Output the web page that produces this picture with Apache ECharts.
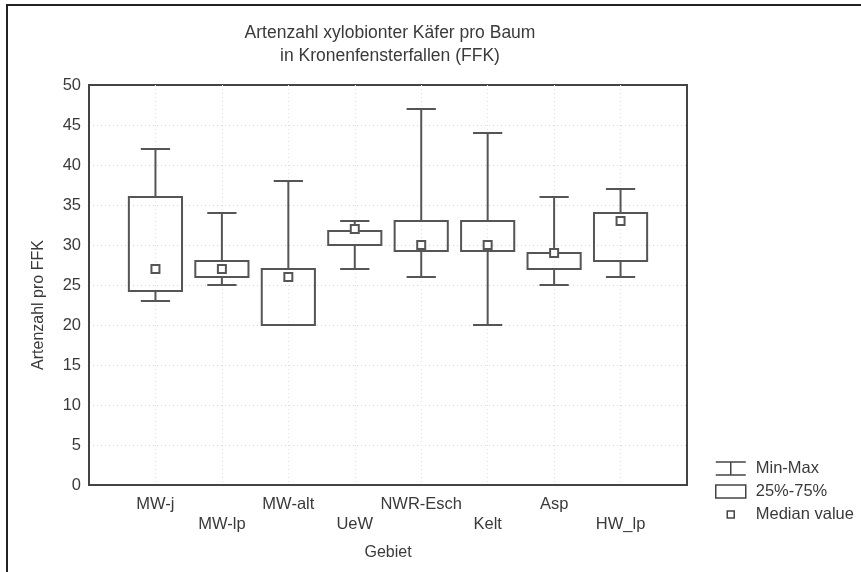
<!DOCTYPE html>
<html>
<head>
<meta charset="utf-8">
<title>Artenzahl xylobionter Käfer pro Baum</title>
<script src="https://cdn.jsdelivr.net/npm/echarts@6/dist/echarts.min.js"></script>
<style>
  html, body { margin: 0; padding: 0; background: #fff; }
  #chart { width: 861px; height: 572px; }
</style>
</head>
<body>
<div id="chart"></div>
<script>
// Sampling areas (Gebiet)
const gebiete = ['MW-j', 'MW-lp', 'MW-alt', 'UeW', 'NWR-Esch', 'Kelt', 'Asp', 'HW_lp'];
// Species count per tree in canopy window traps: five-number summaries
const minWerte    = [23, 25, 20, 27, 26, 20, 25, 26];
const q25Werte    = [24.25, 26, 20, 30, 29.25, 29.25, 27, 28];
const medianWerte = [27, 27, 26, 32, 30, 30, 29, 33];
const q75Werte    = [36, 28, 27, 31.75, 33, 33, 29, 34];
const maxWerte    = [42, 34, 38, 33, 47, 44, 36, 37];
// Value axis ticks
const yTicks = { min: 0, max: 50, step: 5 };

// Padded category list so that the groups sit between empty edge slots
const kategorien = [''].concat(gebiete, ['']);
const rows = gebiete.map((g, i) => [i + 1, minWerte[i], q25Werte[i], medianWerte[i], q75Werte[i], maxWerte[i]]);

const LINE = '#555555';
const TEXT = '#3a3a3a';
const FONT = 'Liberation Sans, Arial, sans-serif';

function whiskerItem(params, api) {
  const x = api.value(0);
  const band = api.size([1, 0])[0];
  const cap = band * 0.22;
  const pMin = api.coord([x, api.value(1)]);
  const pMax = api.coord([x, api.value(5)]);
  const pQ1 = api.coord([x, api.value(2)]);
  const pQ3 = api.coord([x, api.value(4)]);
  const st = { stroke: LINE, lineWidth: 2, fill: null };
  return {
    type: 'group',
    children: [
      { type: 'line', shape: { x1: pMax[0], y1: pMax[1], x2: pQ3[0], y2: pQ3[1] }, style: st },
      { type: 'line', shape: { x1: pQ1[0], y1: pQ1[1], x2: pMin[0], y2: pMin[1] }, style: st },
      { type: 'line', shape: { x1: pMax[0] - cap, y1: pMax[1], x2: pMax[0] + cap, y2: pMax[1] }, style: st },
      { type: 'line', shape: { x1: pMin[0] - cap, y1: pMin[1], x2: pMin[0] + cap, y2: pMin[1] }, style: st }
    ]
  };
}

function boxItem(params, api) {
  const x = api.value(0);
  const band = api.size([1, 0])[0];
  const half = band * 0.4;
  const pQ1 = api.coord([x, api.value(2)]);
  const pQ3 = api.coord([x, api.value(4)]);
  return {
    type: 'rect',
    shape: { x: pQ1[0] - half, y: pQ3[1], width: half * 2, height: pQ1[1] - pQ3[1] },
    style: { stroke: LINE, lineWidth: 2, fill: 'rgba(255,255,255,0)' }
  };
}

function medianItem(params, api) {
  const x = api.value(0);
  const p = api.coord([x, api.value(3)]);
  const s = 8;
  return {
    type: 'rect',
    shape: { x: p[0] - s / 2, y: p[1] - s / 2, width: s, height: s },
    style: { stroke: LINE, lineWidth: 2, fill: '#fff' }
  };
}

const chart = echarts.init(document.getElementById('chart'), null, { renderer: 'canvas' });

chart.setOption({
  backgroundColor: '#fff',
  animation: false,
  textStyle: { fontFamily: FONT, color: TEXT },
  title: {
    text: 'Artenzahl xylobionter Käfer pro Baum\nin Kronenfensterfallen (FFK)',
    left: 385,
    top: 17,
    textAlign: 'center',
    textStyle: { fontFamily: FONT, fontSize: 17.5, fontWeight: 'normal', color: TEXT, lineHeight: 23 }
  },
  legend: {
    orient: 'vertical',
    left: 710,
    top: 455,
    itemWidth: 30,
    itemHeight: 13,
    itemGap: 6,
    textStyle: { fontFamily: FONT, fontSize: 16.5, color: TEXT, padding: [0, 0, 0, 5] },
    data: [
      {
        name: 'Min-Max',
        icon: 'path://M0,0L30,0M15,0L15,13M0,13L30,13',
        itemStyle: { color: 'rgba(0,0,0,0)', borderColor: '#444', borderWidth: 1.5 }
      },
      {
        name: '25%-75%',
        icon: 'path://M0,0L30,0L30,13L0,13Z',
        itemStyle: { color: 'rgba(0,0,0,0)', borderColor: '#444', borderWidth: 1.5 }
      },
      {
        name: 'Median value',
        icon: 'path://M0,0M30,13M11.5,3L18.5,3L18.5,10L11.5,10Z',
        itemStyle: { color: 'rgba(0,0,0,0)', borderColor: '#444', borderWidth: 1.5 }
      }
    ]
  },
  grid: {
    left: 89, right: 174, top: 85, bottom: 87,
    show: true, borderColor: '#444', borderWidth: 2, backgroundColor: '#fff'
  },
  xAxis: {
    type: 'category',
    data: kategorien,
    boundaryGap: false,
    name: 'Gebiet',
    nameLocation: 'middle',
    nameGap: 60,
    nameTextStyle: { fontFamily: FONT, fontSize: 16, color: TEXT },
    axisLine: { show: true, lineStyle: { color: '#444', width: 2 } },
    axisTick: { show: false },
    axisLabel: {
      interval: 0,
      margin: 9,
      fontFamily: FONT,
      fontSize: 16.5,
      color: TEXT,
      lineHeight: 20,
      formatter: (v, i) => (i % 2 === 0 && v ? '\n' + v : v)
    },
    splitLine: {
      show: true, showMinLine: false, showMaxLine: false,
      lineStyle: { color: '#e0e0e0', type: [1, 3], width: 1 }
    }
  },
  yAxis: {
    type: 'value',
    min: yTicks.min,
    max: yTicks.max,
    interval: yTicks.step,
    name: 'Artenzahl pro FFK',
    nameLocation: 'middle',
    nameGap: 42,
    nameTextStyle: { fontFamily: FONT, fontSize: 16, color: TEXT, padding: [0, 40, 0, 0] },
    axisLine: { show: true, lineStyle: { color: '#444', width: 2 } },
    axisTick: { show: false },
    axisLabel: { margin: 8, fontFamily: FONT, fontSize: 16.5, color: TEXT },
    splitLine: {
      show: true, showMinLine: false, showMaxLine: false,
      lineStyle: { color: '#d4d4d4', type: [1, 3], width: 1 }
    }
  },
  graphic: [
    // outer frame edges (top and left)
    { type: 'line', shape: { x1: 6, y1: 5, x2: 861, y2: 5 }, style: { stroke: '#222', lineWidth: 2 }, silent: true },
    { type: 'line', shape: { x1: 7, y1: 4, x2: 7, y2: 572 }, style: { stroke: '#222', lineWidth: 2 }, silent: true }
  ],
  series: [
    { name: 'Min-Max', type: 'custom', renderItem: whiskerItem, data: rows, itemStyle: { color: LINE }, z: 2 },
    { name: '25%-75%', type: 'custom', renderItem: boxItem, data: rows, itemStyle: { color: LINE }, z: 3 },
    { name: 'Median value', type: 'custom', renderItem: medianItem, data: rows, itemStyle: { color: LINE }, z: 4 }
  ]
});
</script>
</body>
</html>
